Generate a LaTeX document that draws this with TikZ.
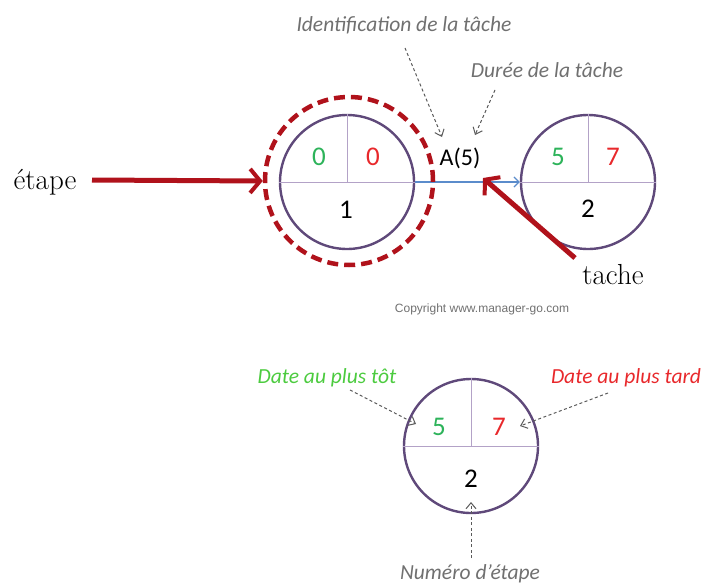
\documentclass[tikz,border=0pt]{standalone}
\usepackage{fontspec}
\newfontfamily\calfont{Carlito}
\newfontfamily\arialfont{Liberation Sans}
\usetikzlibrary{arrows.meta}
\definecolor{ringpurple}{HTML}{5F497A}
\definecolor{splitlilac}{HTML}{B3A2C7}
\definecolor{darkred}{HTML}{B0121B}
\definecolor{earlygreen}{HTML}{2DB35A}
\definecolor{lategreen}{HTML}{4CCB3F}
\definecolor{latered}{HTML}{E8282B}
\definecolor{notegray}{HTML}{707070}
\definecolor{taskblue}{HTML}{5B8CCB}
\tikzset{
  stage/.style={circle, draw=ringpurple, line width=2.4pt, minimum size=134pt, inner sep=0pt},
  splitline/.style={draw=splitlilac, line width=0.9pt},
  digit/.style={font=\calfont\fontsize{27}{30}\selectfont, inner sep=0pt},
  note/.style={font=\calfont\itshape\fontsize{21.5}{24}\selectfont, text=notegray, inner sep=0pt},
  bigword/.style={font=\fontsize{29}{32}\selectfont, inner sep=0pt},
  pointer/.style={draw=notegray!80!black, line width=1pt, dash pattern=on 3pt off 2.5pt,
    -{Straight Barb[length=6pt,width=10pt,line width=1pt]}},
  redarrow/.style={draw=darkred, line width=5pt,
    -{Straight Barb[length=10pt,width=24pt,line width=4pt]}},
}
\begin{document}
\begin{tikzpicture}[x=1pt,y=-1pt]
\useasboundingbox (0,0) rectangle (703,586);

% upper network: two stages joined by task A
\node[stage] (n1) at (347,182) {};
\node[stage] (n2) at (588,182) {};
\draw[splitline] (n1.west) -- (n1.east) (n1.north) -- (n1.center);
\draw[splitline] (n2.west) -- (n2.east) (n2.north) -- (n2.center);
\node[digit, text=earlygreen] (e1) at (319,157) {0};
\node[digit, text=latered] (l1) at (373,157) {0};
\node[digit] (k1) at (346,210) {1};
\node[digit, text=earlygreen] (e2) at (558,157) {5};
\node[digit, text=latered] (l2) at (613,157) {7};
\node[digit] (k2) at (588,209) {2};

\draw[draw=taskblue, line width=1.4pt, -{Straight Barb[length=5pt,width=10pt,line width=1.2pt]}] (n1.east) -- (n2.west);
\node[font=\calfont\fontsize{24}{28}\selectfont, inner sep=0pt] (task) at (460,158) {A(5)};

% highlight ring around the first stage
\node[circle, draw=darkred, line width=4.5pt, dash pattern=on 11pt off 6pt, minimum size=168pt] (ring) at (349,181) {};

\node[note] (ident) at (404,25) {Identification de la tâche};
\node[note] (dur) at (547,70) {Durée de la tâche};
\coordinate (identtail) at (405,48);
\coordinate (identtip) at (442,137);
\coordinate (durtail) at (495,90);
\coordinate (durtip) at (475,135);
\draw[pointer] (identtail) -- (identtip);
\draw[pointer] (durtail) -- (durtip);

\node[bigword] (etape) at (45,182) {étape};
\node[bigword] (tache) at (613,275) {tache};
\coordinate (etail) at (92,180);
\draw[redarrow] (etail) -- (ring.west);
\coordinate (ttail) at (575,258);
\coordinate (ttip) at (483,178);
\draw[redarrow] (ttail) -- (ttip);

\node[font=\arialfont\fontsize{12}{14}\selectfont, text=notegray, inner sep=0pt] (copy) at (482,309) {Copyright www.manager-go.com};

% lower legend stage
\node[stage] (n3) at (471,446) {};
\draw[splitline] (n3.west) -- (n3.east) (n3.north) -- (n3.center);
\node[digit, text=earlygreen] (e3) at (439,427) {5};
\node[digit, text=latered] (l3) at (499,427) {7};
\node[digit] (k3) at (471,479) {2};

\node[note, text=lategreen] (early) at (327,378) {Date au plus tôt};
\node[note, text=latered] (late) at (626,378) {Date au plus tard};
\node[note] (num) at (470,574) {Numéro d’étape};
\coordinate (earlytail) at (350,390);
\coordinate (earlytip) at (416,424);
\coordinate (latetail) at (608,393);
\coordinate (latetip) at (520,426);
\coordinate (numtail) at (471,558);
\coordinate (numtip) at (471,502);
\draw[pointer] (earlytail) -- (earlytip);
\draw[pointer] (latetail) -- (latetip);
\draw[pointer] (numtail) -- (numtip);
\end{tikzpicture}
\end{document}
